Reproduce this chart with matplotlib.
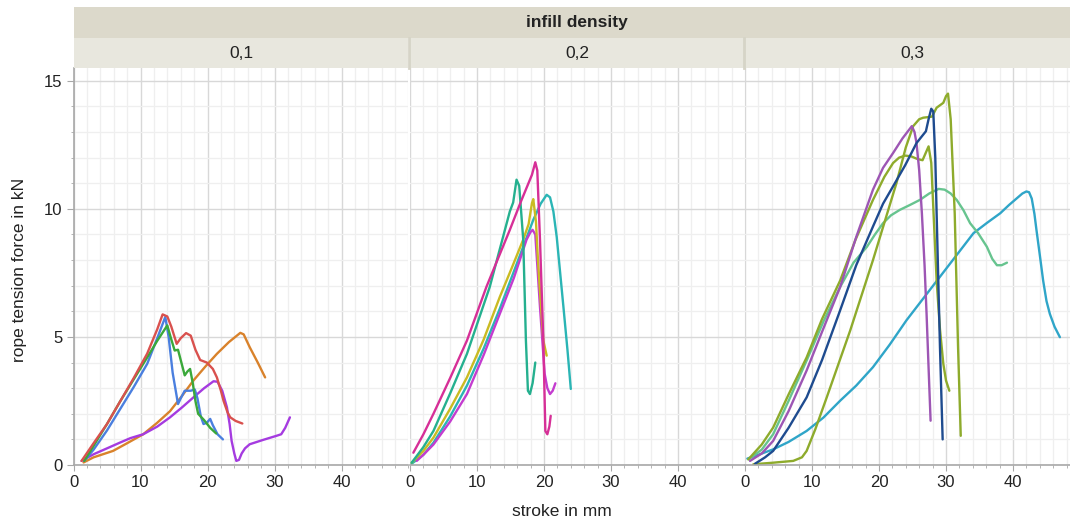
import matplotlib
matplotlib.use("Agg")
import matplotlib.pyplot as plt
from matplotlib.ticker import MultipleLocator, FixedLocator

plt.rcParams['font.family'] = ['Liberation Sans', 'DejaVu Sans']

# ---------------- data ----------------
panel_labels = ["0,1", "0,2", "0,3"]
facet_title = "infill density"
x_label = "stroke in mm"
y_label = "rope tension force in kN"
x_ticks = [0, 10, 20, 30, 40]
y_ticks = [0, 5, 10, 15]

# panel 0,1
p1_red_x = [1.2, 3, 5, 7, 9, 11, 12.5, 13.3, 14.0, 14.6, 15.4, 16.0, 16.8, 17.5, 18.2, 18.9, 19.9, 20.8, 21.4, 22.0, 22.4, 23.0, 23.4, 24.2, 25.2]
p1_red_y = [0.16, 0.85, 1.6, 2.5, 3.4, 4.35, 5.3, 5.88, 5.8, 5.4, 4.73, 4.95, 5.15, 5.05, 4.5, 4.1, 4.0, 3.75, 3.42, 2.9, 2.5, 2.05, 1.86, 1.72, 1.62]
p1_blue_x = [1.6, 3, 5, 7, 9, 11, 12.5, 13.7, 14.2, 14.8, 15.6, 16.0, 16.6, 17.5, 18.1, 18.5, 19.0, 19.4, 19.9, 20.4, 20.8, 21.5, 22.3]
p1_blue_y = [0.16, 0.6, 1.35, 2.2, 3.05, 3.95, 4.95, 5.78, 5.0, 3.6, 2.38, 2.6, 2.9, 2.9, 2.95, 2.6, 1.9, 1.6, 1.65, 1.8, 1.55, 1.2, 1.0]
p1_green_x = [1.6, 3, 5, 7, 9, 11, 12.5, 14.0, 14.6, 15.1, 15.6, 16.0, 16.6, 17.0, 17.4, 17.8, 18.2, 18.6, 19.5, 20.4, 21.3]
p1_green_y = [0.16, 0.75, 1.6, 2.5, 3.35, 4.2, 4.85, 5.45, 4.9, 4.47, 4.5, 4.1, 3.5, 3.65, 3.75, 3.2, 2.5, 2.0, 1.75, 1.45, 1.23]
p1_orange_x = [1.5, 3, 5.9, 8, 10.4, 12.5, 14.4, 16.2, 17.9, 19.7, 21.4, 23.2, 24.9, 25.4, 26.3, 27.5, 28.6]
p1_orange_y = [0.1, 0.3, 0.55, 0.85, 1.2, 1.65, 2.1, 2.7, 3.3, 3.85, 4.34, 4.8, 5.16, 5.1, 4.6, 4.0, 3.42]
p1_purple_x = [1.2, 3.0, 5, 6.9, 8.5, 10.4, 12.5, 14.4, 16.2, 17.9, 19.5, 20.9, 21.5, 22.2, 22.9, 23.3, 23.6, 24.0, 24.3, 24.7, 25.1, 25.6, 26.3, 28.3, 30.3, 31.0, 31.6, 32.3]
p1_purple_y = [0.16, 0.42, 0.65, 0.87, 1.05, 1.2, 1.5, 1.86, 2.25, 2.64, 3.0, 3.27, 3.25, 2.9, 2.25, 1.6, 0.94, 0.45, 0.16, 0.2, 0.45, 0.65, 0.81, 0.98, 1.14, 1.2, 1.45, 1.86]

# panel 0,2
p2_magenta_x = [0.5, 2, 3.5, 6, 8.5, 11.4, 13.2, 14.9, 16.5, 18.2, 18.7, 19.0, 19.4, 19.9, 20.2, 20.5, 20.8, 21.0]
p2_magenta_y = [0.48, 1.2, 2.0, 3.4, 4.86, 6.95, 8.1, 9.18, 10.25, 11.33, 11.82, 11.5, 8.8, 4.86, 1.33, 1.2, 1.5, 1.92]
p2_tealgreen_x = [0.25, 2, 3.5, 6, 8.5, 11.9, 14.9, 15.4, 15.9, 16.3, 16.9, 17.3, 17.6, 17.9, 18.3, 18.7]
p2_tealgreen_y = [0.09, 0.7, 1.33, 2.8, 4.34, 6.95, 9.9, 10.25, 11.14, 10.9, 8.8, 4.86, 2.9, 2.77, 3.2, 4.0]
p2_yellow_x = [0.25, 2, 3.5, 6, 8.5, 11, 13.4, 15.2, 16.9, 17.7, 18.2, 18.4, 18.8, 19.1, 19.4, 19.9, 20.4]
p2_yellow_y = [0.09, 0.55, 1.07, 2.2, 3.42, 4.9, 6.56, 7.7, 8.8, 9.4, 10.22, 10.38, 9.5, 8.0, 6.8, 4.86, 4.27]
p2_violet_x = [1.0, 2, 3.5, 6, 8.5, 11, 13.4, 15.5, 17.4, 18.0, 18.3, 18.7, 19.0, 19.4, 20.1, 20.5, 20.9, 21.3, 21.7]
p2_violet_y = [0.16, 0.4, 0.8, 1.7, 2.77, 4.3, 5.9, 7.3, 8.8, 9.1, 9.18, 9.0, 7.8, 6.17, 3.56, 3.0, 2.77, 2.9, 3.19]
p2_teal_x = [0.25, 2, 3.5, 6, 8.5, 11, 13.4, 16, 18.4, 19.5, 20.4, 20.9, 21.4, 21.9, 22.9, 23.5, 24.0]
p2_teal_y = [0.05, 0.4, 0.87, 1.9, 3.1, 4.55, 6.1, 7.9, 9.57, 10.2, 10.55, 10.45, 9.9, 8.9, 6.17, 4.5, 2.97]

# panel 0,3
p3_olive1_x = [1.25, 4.2, 7.2, 8.5, 9.2, 10.5, 12.2, 15.7, 19.1, 22.6, 24.0, 25.1, 26.0, 26.6, 27.9, 28.6, 29.6, 30.0, 30.3, 30.7, 31.3, 31.8, 32.2]
p3_olive1_y = [0.03, 0.09, 0.16, 0.3, 0.55, 1.4, 2.64, 5.25, 8.0, 11.0, 12.4, 13.23, 13.5, 13.56, 13.6, 13.95, 14.14, 14.4, 14.5, 13.5, 9.83, 4.6, 1.14]
p3_olive2_x = [0.5, 2.5, 4.2, 6.5, 9.2, 11.5, 14.2, 16.5, 19.1, 20.8, 22.1, 23.0, 23.9, 24.8, 25.7, 26.5, 27.0, 27.4, 27.8, 28.2, 28.6, 29.1, 29.6, 30.0, 30.5]
p3_olive2_y = [0.22, 0.8, 1.46, 2.75, 4.2, 5.7, 7.2, 8.8, 10.35, 11.25, 11.79, 12.0, 12.08, 12.05, 11.95, 11.9, 12.2, 12.44, 11.8, 9.5, 7.2, 5.3, 3.95, 3.3, 2.9]
p3_purple_x = [0.75, 2.5, 4.2, 6.5, 9.2, 11.5, 14.2, 16.6, 19.1, 20.6, 22.1, 23.5, 24.9, 25.3, 25.6, 26.0, 26.4, 26.8, 27.1, 27.4, 27.7]
p3_purple_y = [0.16, 0.45, 0.94, 2.1, 3.69, 5.2, 6.95, 8.9, 10.75, 11.6, 12.18, 12.75, 13.23, 13.0, 12.57, 11.5, 9.83, 7.8, 5.9, 3.8, 1.73]
p3_navy_x = [1.5, 3, 4.2, 6.5, 9.2, 11.5, 14.2, 16.6, 19.1, 20.6, 22.1, 23.9, 25.6, 27.0, 27.4, 27.8, 28.1, 28.4, 28.6, 29.1, 29.5]
p3_navy_y = [0.05, 0.3, 0.55, 1.45, 2.64, 4.1, 6.04, 7.8, 9.31, 10.2, 10.88, 11.7, 12.57, 13.03, 13.5, 13.91, 13.8, 12.0, 9.83, 4.6, 1.0]
p3_lightgreen_x = [0.5, 2.5, 4.2, 6.5, 9.2, 11.7, 14.2, 16.2, 18.2, 19.4, 20.6, 21.8, 23.1, 24.6, 26.1, 27.5, 28.9, 29.8, 30.7, 31.6, 32.6, 33.6, 34.8, 36.1, 36.9, 37.6, 38.3, 39.1]
p3_lightgreen_y = [0.22, 0.6, 1.2, 2.5, 4.08, 5.6, 6.95, 7.9, 8.52, 9.0, 9.44, 9.75, 9.96, 10.15, 10.35, 10.6, 10.78, 10.75, 10.6, 10.35, 9.95, 9.44, 9.05, 8.52, 8.05, 7.8, 7.8, 7.9]
p3_cyan_x = [0.35, 2, 4.2, 6.5, 9.2, 11.7, 14.2, 16.6, 19.1, 21.6, 24.1, 26.6, 29.1, 31.6, 34.1, 36.1, 38.1, 39.4, 40.6, 41.4, 42.0, 42.4, 42.8, 43.2, 43.5, 44.0, 44.5, 45.0, 45.5, 46.2, 47.0]
p3_cyan_y = [0.25, 0.4, 0.61, 0.9, 1.33, 1.85, 2.51, 3.1, 3.82, 4.7, 5.65, 6.5, 7.35, 8.2, 9.05, 9.45, 9.83, 10.15, 10.42, 10.6, 10.68, 10.65, 10.4, 9.8, 9.18, 8.2, 7.2, 6.4, 5.9, 5.4, 4.99]

panels = [
    [(p1_orange_x, p1_orange_y, "#d9822b"),
     (p1_purple_x, p1_purple_y, "#a53be0"),
     (p1_blue_x, p1_blue_y, "#4a7fdf"),
     (p1_green_x, p1_green_y, "#3aa83a"),
     (p1_red_x, p1_red_y, "#d9514e")],
    [(p2_teal_x, p2_teal_y, "#2bb5b5"),
     (p2_violet_x, p2_violet_y, "#c43ccf"),
     (p2_yellow_x, p2_yellow_y, "#cabb22"),
     (p2_tealgreen_x, p2_tealgreen_y, "#25b08f"),
     (p2_magenta_x, p2_magenta_y, "#d62f97")],
    [(p3_cyan_x, p3_cyan_y, "#2fa5c8"),
     (p3_lightgreen_x, p3_lightgreen_y, "#67c48f"),
     (p3_olive2_x, p3_olive2_y, "#8eab2c"),
     (p3_olive1_x, p3_olive1_y, "#8eab2c"),
     (p3_purple_x, p3_purple_y, "#9d56b4"),
     (p3_navy_x, p3_navy_y, "#1e4b8f")],
]

# ---------------- layout ----------------
W, H = 1070, 524
fig = plt.figure(figsize=(W / 100, H / 100), dpi=100)
fig.patch.set_facecolor("white")

def frac(x0, y0, x1, y1):
    return [x0 / W, 1 - y1 / H, (x1 - x0) / W, (y1 - y0) / H]

panel_left = [73.5, 410, 745]
panel_w = 335
plot_top, plot_bot = 68, 465
XMAX, YMAX = 50, 15.5

axis_col = "#a8a8a8"
for i, (left, series) in enumerate(zip(panel_left, panels)):
    ax = fig.add_axes(frac(left, plot_top, left + panel_w, plot_bot))
    ax.set_xlim(0, XMAX)
    ax.set_ylim(0, YMAX)
    ax.set_axisbelow(True)
    ax.xaxis.set_major_locator(FixedLocator(x_ticks))
    ax.xaxis.set_minor_locator(MultipleLocator(2))
    ax.yaxis.set_major_locator(FixedLocator(y_ticks))
    ax.yaxis.set_minor_locator(MultipleLocator(1))
    ax.grid(which="major", color="#d8d8d8", lw=1.0)
    ax.grid(which="minor", color="#efefef", lw=0.9)
    for s in ["top", "right"]:
        ax.spines[s].set_visible(False)
    ax.spines["bottom"].set_color(axis_col)
    ax.spines["bottom"].set_linewidth(1.2)
    ax.tick_params(axis="x", which="major", length=4, color=axis_col, labelsize=12,
                   labelcolor="#222222", pad=3)
    ax.tick_params(axis="x", which="minor", length=2.5, color=axis_col)
    if i == 0:
        ax.spines["left"].set_color(axis_col)
        ax.spines["left"].set_linewidth(1.2)
        ax.tick_params(axis="y", which="major", length=5, color=axis_col, labelsize=12,
                       labelcolor="#222222", pad=3)
        ax.tick_params(axis="y", which="minor", length=2.5, color=axis_col)
    else:
        ax.spines["left"].set_visible(False)
        ax.tick_params(axis="y", which="both", length=0, labelleft=False)
    for xs, ys, c in series:
        ax.plot(xs, ys, color=c, lw=1.7, solid_joinstyle="round", solid_capstyle="round")

    # panel strip
    sax = fig.add_axes(frac(left, 38, left + panel_w, plot_top))
    sax.set_facecolor("#e8e7de")
    sax.set_xticks([]); sax.set_yticks([])
    for s in sax.spines.values():
        s.set_visible(False)
    sax.text(0.5, 0.5, panel_labels[i], ha="center", va="center", fontsize=12.5,
             color="#222222", transform=sax.transAxes)

# separators in panel strip row
for xb in [409.2, 744.2]:
    fig.add_artist(plt.Line2D([xb / W, xb / W], [1 - plot_top / H, 1 - 38 / H],
                              color="#d6d4c7", lw=2, transform=fig.transFigure))

# top facet strip
tax = fig.add_axes(frac(73.5, 7, 1080, 38))
tax.set_facecolor("#dcd9cb")
tax.set_xticks([]); tax.set_yticks([])
for s in tax.spines.values():
    s.set_visible(False)
tax.text(0.5, 0.5, facet_title, ha="center", va="center", fontsize=12.5,
         fontweight="bold", color="#222222", transform=tax.transAxes)

fig.text(562 / W, 1 - 512 / H, x_label, ha="center", va="center", fontsize=12.5, color="#222222")
fig.text(20 / W, 1 - 270 / H, y_label, ha="center", va="center", rotation=90,
         fontsize=12.5, color="#222222")

fig.savefig("out.png", dpi=100)
